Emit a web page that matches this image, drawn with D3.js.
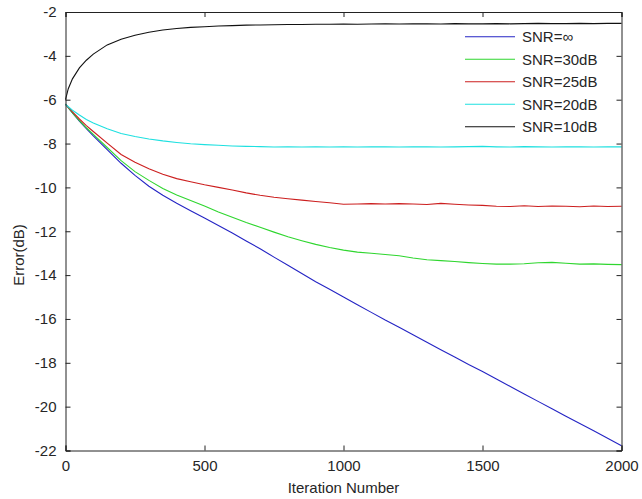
<!DOCTYPE html>
<html><head><meta charset="utf-8">
<script src="https://cdn.jsdelivr.net/npm/d3@7"></script>
<style>
html,body{margin:0;padding:0;background:#fff;}
svg text{font-family:"Liberation Sans",Arial,sans-serif;}
</style></head>
<body><svg id="chart" width="642" height="499"></svg>
<script>
const iterations = [0,10,25,50,75,100,150,200,250,300,350,400,450,500,550,600,650,700,750,800,850,900,950,1000,1050,1100,1150,1200,1250,1300,1350,1400,1450,1500,1550,1600,1650,1700,1750,1800,1850,1900,1950,2000];
const snrInf = [-6.2,-6.36,-6.6,-6.98,-7.32,-7.65,-8.28,-8.9,-9.45,-9.95,-10.36,-10.72,-11.06,-11.4,-11.74,-12.08,-12.44,-12.8,-13.18,-13.55,-13.93,-14.3,-14.65,-15.0,-15.35,-15.7,-16.05,-16.38,-16.72,-17.06,-17.4,-17.74,-18.08,-18.4,-18.74,-19.08,-19.42,-19.76,-20.1,-20.44,-20.77,-21.1,-21.44,-21.78];
const snr30 = [-6.2,-6.36,-6.6,-6.95,-7.28,-7.58,-8.18,-8.78,-9.28,-9.68,-10.05,-10.35,-10.6,-10.85,-11.12,-11.36,-11.6,-11.82,-12.04,-12.25,-12.43,-12.6,-12.74,-12.86,-12.95,-13.0,-13.06,-13.12,-13.22,-13.3,-13.34,-13.38,-13.43,-13.47,-13.5,-13.5,-13.48,-13.44,-13.42,-13.46,-13.5,-13.49,-13.51,-13.52];
const snr25 = [-6.2,-6.35,-6.55,-6.88,-7.18,-7.45,-7.98,-8.5,-8.85,-9.15,-9.4,-9.6,-9.74,-9.88,-10.0,-10.12,-10.25,-10.36,-10.45,-10.52,-10.58,-10.64,-10.7,-10.77,-10.76,-10.74,-10.76,-10.74,-10.76,-10.78,-10.73,-10.77,-10.8,-10.82,-10.86,-10.87,-10.84,-10.87,-10.85,-10.86,-10.88,-10.85,-10.87,-10.86];
const snr20 = [-6.2,-6.32,-6.48,-6.7,-6.9,-7.06,-7.33,-7.54,-7.68,-7.79,-7.88,-7.95,-8.01,-8.05,-8.08,-8.11,-8.13,-8.14,-8.16,-8.15,-8.16,-8.15,-8.16,-8.15,-8.16,-8.15,-8.15,-8.16,-8.15,-8.15,-8.16,-8.15,-8.14,-8.13,-8.15,-8.16,-8.14,-8.15,-8.16,-8.15,-8.15,-8.16,-8.15,-8.15];
const snr10 = [-6.0,-5.5,-5.05,-4.55,-4.2,-3.92,-3.5,-3.24,-3.06,-2.92,-2.82,-2.75,-2.7,-2.67,-2.64,-2.62,-2.6,-2.59,-2.58,-2.57,-2.57,-2.56,-2.56,-2.55,-2.56,-2.55,-2.54,-2.55,-2.54,-2.54,-2.55,-2.53,-2.54,-2.54,-2.53,-2.54,-2.53,-2.52,-2.53,-2.53,-2.52,-2.53,-2.52,-2.52];
const seriesNames = ["SNR=\u221E","SNR=30dB","SNR=25dB","SNR=20dB","SNR=10dB"];
const seriesColors = ["#2424c4","#2fd62f","#cc1f1f","#1ee0e0","#111111"];
const seriesValues = [snrInf, snr30, snr25, snr20, snr10];
const xTicks = [0,500,1000,1500,2000];
const yTicks = [-2,-4,-6,-8,-10,-12,-14,-16,-18,-20,-22];

(function(){
const svg = d3.select("#chart");
const L = 65.5, R = 621.5, T = 12, B = 450.5;
const x = d3.scaleLinear().domain([0,2000]).range([L,R]);
const y = d3.scaleLinear().domain([-22,-2]).range([B,T]);
const txt = "#262626";
const fmt = d => String(d);

svg.append("rect").attr("width",642).attr("height",499).attr("fill","#fff");

const line = d3.line().x(d=>x(d[0])).y(d=>y(d[1]));
seriesValues.forEach((vals,i)=>{
  svg.append("path")
    .datum(iterations.map((it,j)=>[it,vals[j]]))
    .attr("d",line).attr("fill","none")
    .attr("stroke",seriesColors[i]).attr("stroke-width",1.1);
});

const tickLen = 5;
const gBottom = svg.append("g").attr("transform",`translate(0,${B})`)
  .call(d3.axisBottom(x).tickValues(xTicks).tickSize(-tickLen).tickPadding(10).tickFormat(fmt));
const gTop = svg.append("g").attr("transform",`translate(0,${T})`)
  .call(d3.axisTop(x).tickValues(xTicks).tickSize(-tickLen).tickFormat(""));
const gLeft = svg.append("g").attr("transform",`translate(${L},0)`)
  .call(d3.axisLeft(y).tickValues(yTicks).tickSize(-tickLen).tickPadding(8).tickFormat(fmt));
const gRight = svg.append("g").attr("transform",`translate(${R},0)`)
  .call(d3.axisRight(y).tickValues(yTicks).tickSize(-tickLen).tickFormat(""));
[gBottom,gTop,gLeft,gRight].forEach(g=>{
  g.select(".domain").attr("stroke","#222");
  g.selectAll(".tick line").attr("stroke","#222");
  g.selectAll("text").attr("fill",txt).style("font-size","15px");
});
gLeft.selectAll(".tick text").attr("dx","-1");

svg.append("text").attr("x",(L+R)/2).attr("y",493).attr("text-anchor","middle")
  .attr("fill",txt).style("font-size","15px").text("Iteration Number");
svg.append("text").attr("transform","translate(24,255) rotate(-90)").attr("text-anchor","middle")
  .attr("fill",txt).style("font-size","15px").text("Error(dB)");

const lg = svg.append("g");
lg.append("rect").attr("x",455).attr("y",27).attr("width",160).attr("height",112).attr("fill","#fff");
seriesNames.forEach((n,i)=>{
  const yy = 36.7 + i*22.5;
  lg.append("line").attr("x1",465).attr("x2",515).attr("y1",yy).attr("y2",yy)
    .attr("stroke",seriesColors[i]).attr("stroke-width",1.1);
  lg.append("text").attr("x",522).attr("y",yy+5.5).attr("fill",txt)
    .style("font-size","15px").text(n);
});
})();
</script></body></html>
